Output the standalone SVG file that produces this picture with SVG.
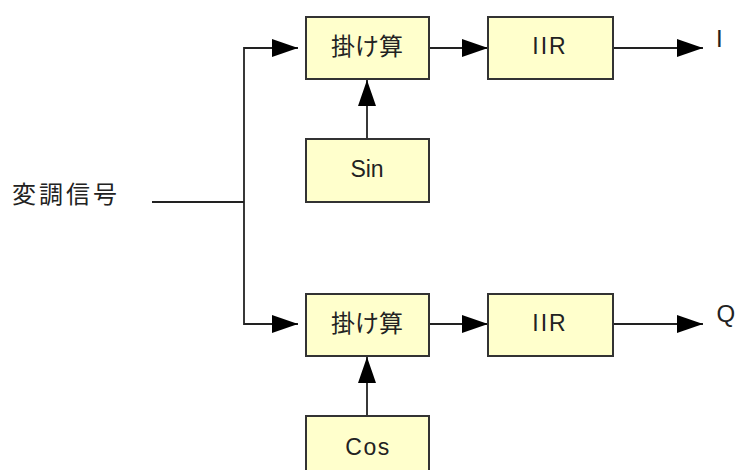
<svg xmlns="http://www.w3.org/2000/svg" width="736" height="470" viewBox="0 0 736 470">
  <style>
    .box { fill: #FFFFCC; stroke: #333333; stroke-width: 2; }
    .wire { fill: none; stroke: #222222; stroke-width: 1.8; }
    .jp { font-family: "Noto Sans CJK JP", "Noto Sans CJK SC", sans-serif; font-size: 24px; fill: #222222; }
    .lt { font-family: "Liberation Sans", Arial, sans-serif; font-size: 23px; fill: #222222; }
    .out { font-family: "Liberation Sans", Arial, sans-serif; font-size: 24px; fill: #222222; }
  </style>
  <defs>
    <marker id="arrow" markerUnits="userSpaceOnUse" markerWidth="26" markerHeight="18" refX="26" refY="9" orient="auto">
      <path d="M0,0 L26,9 L0,18 z" fill="#000000"/>
    </marker>
  </defs>
  <rect width="736" height="470" fill="#FFFFFF"/>

  <g id="connectors">
    <path class="wire" d="M152,202 H244"/>
    <path class="wire" d="M244,47 V325"/>
    <path class="wire" d="M244,48 H298" marker-end="url(#arrow)"/>
    <path class="wire" d="M244,324 H298" marker-end="url(#arrow)"/>
    <path class="wire" d="M429,48 H488" marker-end="url(#arrow)"/>
    <path class="wire" d="M429,324 H488" marker-end="url(#arrow)"/>
    <path class="wire" d="M613,48 H703" marker-end="url(#arrow)"/>
    <path class="wire" d="M613,324 H703" marker-end="url(#arrow)"/>
    <path class="wire" d="M367,139 V80" marker-end="url(#arrow)"/>
    <path class="wire" d="M367,416 V357" marker-end="url(#arrow)"/>
  </g>

  <g id="input-label">
    <text class="jp" x="12" y="203" font-size="23" letter-spacing="3">変調信号</text>
  </g>

  <g id="mult-top">
    <rect class="box" x="306" y="17" width="123" height="62"/>
    <text class="jp" x="367" y="55" text-anchor="middle">掛け算</text>
  </g>
  <g id="iir-top">
    <rect class="box" x="488" y="17" width="125" height="62"/>
    <text class="lt" x="550" y="54" text-anchor="middle" letter-spacing="2">IIR</text>
  </g>
  <g id="sin">
    <rect class="box" x="306" y="139" width="123" height="63"/>
    <text class="lt" x="367" y="177" text-anchor="middle">Sin</text>
  </g>
  <g id="mult-bottom">
    <rect class="box" x="306" y="294" width="123" height="62"/>
    <text class="jp" x="367" y="332" text-anchor="middle">掛け算</text>
  </g>
  <g id="iir-bottom">
    <rect class="box" x="488" y="294" width="125" height="62"/>
    <text class="lt" x="550" y="331" text-anchor="middle" letter-spacing="2">IIR</text>
  </g>
  <g id="cos">
    <rect class="box" x="306" y="416" width="123" height="63"/>
    <text class="lt" x="368" y="455" text-anchor="middle" letter-spacing="1.5">Cos</text>
  </g>

  <g id="out-i">
    <text class="out" x="716" y="47">I</text>
  </g>
  <g id="out-q">
    <text class="out" x="716.5" y="322">Q</text>
  </g>
</svg>
